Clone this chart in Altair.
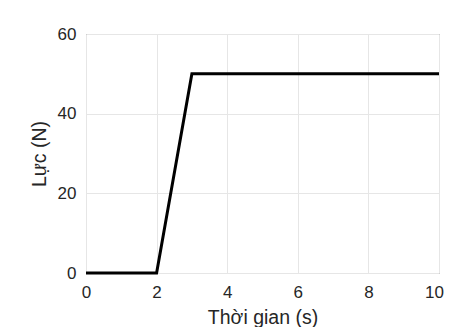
import altair as alt
import pandas as pd

time_s = [0, 2, 3, 10]
force_n = [0, 0, 50, 50]
x_ticks = [0, 2, 4, 6, 8, 10]
y_ticks = [0, 20, 40, 60]

df = pd.DataFrame({"t": time_s, "F": force_n})

font = "Liberation Sans"
chart = alt.Chart(df).mark_line(
    color="black", strokeWidth=3, strokeJoin="miter", clip=False
).encode(
    x=alt.X("t:Q", scale=alt.Scale(domain=[0, 10], nice=False, zero=False),
            axis=alt.Axis(values=x_ticks, title="Thời gian (s)", labelPadding=11,
                          labelFlush=False, labelBound=False, labelOverlap=False,
                          labelOffset={"condition": {"test": "datum.value === 10", "value": -5}, "value": 0},
                          titleY=50, titleBaseline="alphabetic")),
    y=alt.Y("F:Q", scale=alt.Scale(domain=[0, 60], nice=False),
            axis=alt.Axis(values=y_ticks, title="Lực (N)", labelPadding=10,
                          labelFlush=False, labelOverlap=False,
                          titleX=-41, titleY=119.5, titleBaseline="alphabetic",
                          titleAngle=270, titleAlign="center")),
).properties(
    width=353, height=239,
    autosize=alt.AutoSizeParams(type="none"),
    padding={"left": 78, "top": 26, "right": 5, "bottom": 54},
    background="white",
).configure_view(
    stroke="#666666", strokeWidth=1
).configure_axis(
    grid=True, gridColor="#e6e6e6", domain=False, ticks=False,
    labelFont=font, labelFontSize=17, labelColor="#262626",
    titleFont=font, titleFontSize=19.5, titleFontWeight="normal", titleColor="#262626",
)

chart.save("out.html", embed_options={"renderer": "svg", "actions": False})
